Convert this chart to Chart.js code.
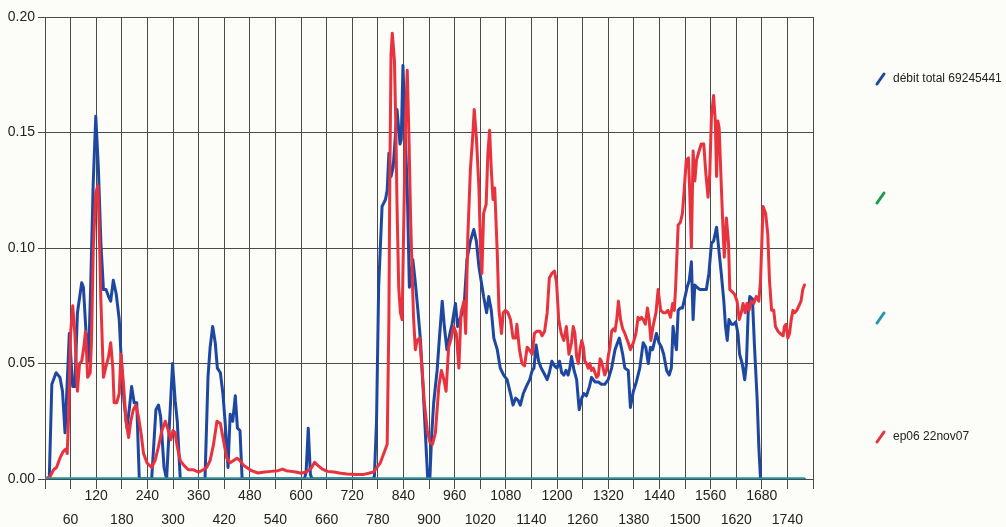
<!DOCTYPE html>
<html>
<head>
<meta charset="utf-8">
<script src="https://cdn.jsdelivr.net/npm/chart.js@4.4.0/dist/chart.umd.min.js"></script>
<style>
  html, body { margin: 0; padding: 0; background: #fcfcf8; }
  canvas { display: block; }
</style>
</head>
<body>
<canvas id="debitChart" width="1006" height="527"></canvas>
<script>
// débit total 69245441 (blue)
const debitTotal = [
  [0,0],[10,0],[16,0.041],[26,0.046],[35,0.044],[41,0.038],[47,0.020],[57,0.063],[65,0.040],[70,0.040],
  [76,0.072],[86,0.085],[90,0.083],[96,0.064],[102,0.051],[107,0.083],[113,0.128],[119,0.157],[125,0.135],
  [131,0.102],[137,0.082],[143,0.082],[149,0.079],[154,0.077],[160,0.086],[167,0.080],[174,0.069],[178,0.054],
  [185,0.034],[192,0.022],[198,0.031],[203,0.040],[209,0.033],[215,0.033],[221,0],[250,0],[260,0.030],
  [266,0.032],[271,0.027],[279,0.005],[285,0],[292,0.025],[299,0.050],[305,0.034],[310,0.025],[317,0],
  [375,0],[382,0.044],[387,0.057],[393,0.066],[399,0.059],[404,0.048],[411,0.046],[417,0.037],[422,0.025],
  [429,0.005],[434,0.028],[440,0.025],[446,0.036],[451,0.022],[457,0.021],[462,0],[608,0],[612,0.003],
  [617,0.022],[622,0.002],[626,0],[767,0],[772,0.001],[777,0.025],[782,0.083],[790,0.118],[798,0.121],
  [802,0.125],[806,0.141],[811,0.131],[816,0.135],[821,0.148],[825,0.160],[832,0.145],[835,0.147],[839,0.179],
  [843,0.155],[849,0.126],[854,0.083],[858,0.087],[862,0.095],[868,0.085],[874,0.073],[880,0.060],[886,0.040],
  [892,0.018],[897,0],[902,0],[906,0.018],[911,0.033],[919,0.047],[924,0.060],[931,0.077],[936,0.066],
  [942,0.056],[949,0.063],[954,0.067],[962,0.076],[967,0.066],[972,0.069],[978,0.072],[983,0.077],[989,0.095],
  [997,0.103],[1005,0.108],[1011,0.103],[1017,0.092],[1022,0.086],[1028,0.079],[1035,0.072],[1040,0.079],
  [1046,0.073],[1052,0.061],[1060,0.056],[1067,0.048],[1075,0.045],[1083,0.043],[1091,0.037],[1097,0.032],
  [1103,0.035],[1109,0.034],[1114,0.032],[1121,0.037],[1128,0.040],[1136,0.043],[1142,0.047],[1146,0.048],
  [1151,0.058],[1157,0.051],[1163,0.048],[1169,0.046],[1177,0.043],[1182,0.046],[1188,0.051],[1194,0.049],
  [1200,0.048],[1206,0.051],[1211,0.046],[1216,0.045],[1221,0.047],[1226,0.045],[1230,0.048],[1234,0.053],
  [1240,0.047],[1246,0.043],[1252,0.030],[1258,0.035],[1263,0.037],[1269,0.036],[1276,0.040],[1281,0.044],
  [1289,0.042],[1297,0.042],[1304,0.041],[1312,0.041],[1320,0.043],[1328,0.048],[1336,0.056],[1346,0.061],
  [1354,0.054],[1359,0.048],[1367,0.047],[1372,0.031],[1379,0.038],[1386,0.042],[1394,0.048],[1402,0.059],
  [1408,0.057],[1414,0.050],[1419,0.057],[1424,0.056],[1433,0.063],[1439,0.059],[1445,0.057],[1450,0.054],
  [1457,0.047],[1463,0.045],[1468,0.048],[1472,0.066],[1476,0.060],[1480,0.056],[1484,0.073],[1489,0.074],
  [1494,0.074],[1499,0.078],[1505,0.083],[1510,0.086],[1515,0.094],[1519,0.069],[1523,0.084],[1528,0.083],
  [1535,0.082],[1542,0.082],[1550,0.082],[1556,0.089],[1562,0.102],[1567,0.103],[1574,0.109],[1580,0.098],
  [1585,0.089],[1591,0.077],[1595,0.066],[1599,0.060],[1603,0.069],[1609,0.067],[1614,0.067],[1619,0.068],
  [1624,0.063],[1628,0.054],[1634,0.050],[1640,0.043],[1644,0.050],[1648,0.072],[1652,0.079],[1658,0.078],
  [1663,0.057],[1669,0.035],[1673,0.014],[1677,0]
];

// ep06 22nov07 (red)
const ep06 = [
  [0,0],[12,0.001],[20,0.004],[27,0.005],[35,0.009],[43,0.012],[49,0.013],[52,0.011],[55,0.025],[60,0.063],
  [65,0.075],[70,0.063],[76,0.038],[81,0.050],[86,0.051],[91,0.057],[95,0.064],[100,0.044],[106,0.046],
  [109,0.060],[113,0.099],[119,0.124],[124,0.127],[127,0.109],[131,0.077],[137,0.044],[142,0.048],[149,0.053],
  [154,0.059],[159,0.048],[162,0.033],[168,0.033],[174,0.037],[178,0.054],[184,0.041],[190,0.025],[196,0.018],
  [201,0.025],[207,0.030],[213,0.032],[219,0.027],[225,0.020],[231,0.011],[239,0.007],[250,0.005],[258,0.008],
  [266,0.014],[274,0.021],[282,0.025],[289,0.021],[295,0.017],[300,0.021],[305,0.020],[310,0.014],[317,0.008],
  [325,0.006],[336,0.004],[348,0.004],[360,0.003],[371,0.004],[379,0.005],[387,0.008],[395,0.015],[403,0.025],
  [411,0.024],[418,0.017],[426,0.009],[434,0.007],[442,0.008],[450,0.009],[457,0.008],[465,0.006],[473,0.005],
  [484,0.0036],[499,0.0026],[515,0.003],[530,0.0033],[546,0.0036],[557,0.0043],[565,0.0036],[577,0.0033],
  [588,0.003],[600,0.0025],[612,0.003],[623,0.0045],[632,0.0072],[640,0.0058],[650,0.0043],[662,0.0033],
  [677,0.003],[693,0.0025],[708,0.0022],[728,0.002],[747,0.002],[759,0.0025],[770,0.003],[778,0.005],
  [786,0.007],[794,0.011],[802,0.015],[806,0.069],[808,0.126],[811,0.184],[814,0.193],[819,0.181],[822,0.155],
  [825,0.119],[829,0.083],[833,0.072],[837,0.069],[841,0.112],[845,0.155],[849,0.177],[853,0.148],[857,0.112],
  [861,0.086],[864,0.069],[868,0.056],[872,0.060],[878,0.061],[884,0.047],[889,0.033],[896,0.021],[902,0.016],
  [908,0.015],[915,0.020],[923,0.040],[929,0.047],[935,0.043],[940,0.038],[946,0.057],[952,0.061],[958,0.066],
  [964,0.063],[970,0.048],[975,0.072],[982,0.077],[986,0.063],[991,0.105],[997,0.134],[1002,0.147],[1006,0.160],
  [1011,0.148],[1017,0.126],[1021,0.098],[1024,0.089],[1028,0.115],[1034,0.119],[1038,0.141],[1042,0.151],
  [1046,0.134],[1050,0.121],[1054,0.126],[1060,0.098],[1064,0.073],[1070,0.063],[1074,0.072],[1079,0.073],
  [1085,0.072],[1091,0.069],[1097,0.061],[1103,0.061],[1106,0.067],[1112,0.056],[1118,0.050],[1124,0.049],
  [1130,0.057],[1135,0.056],[1142,0.054],[1147,0.063],[1153,0.064],[1160,0.064],[1165,0.062],[1171,0.064],
  [1177,0.072],[1182,0.087],[1188,0.089],[1194,0.090],[1199,0.085],[1204,0.069],[1210,0.063],[1216,0.060],
  [1222,0.066],[1228,0.054],[1234,0.059],[1238,0.066],[1242,0.063],[1246,0.053],[1250,0.050],[1254,0.056],
  [1258,0.060],[1262,0.057],[1265,0.051],[1269,0.050],[1273,0.048],[1277,0.050],[1281,0.047],[1285,0.048],
  [1289,0.046],[1293,0.044],[1297,0.045],[1301,0.052],[1304,0.051],[1308,0.048],[1312,0.045],[1316,0.047],
  [1320,0.053],[1324,0.057],[1328,0.064],[1332,0.065],[1336,0.064],[1340,0.069],[1344,0.077],[1349,0.069],
  [1354,0.065],[1359,0.063],[1367,0.059],[1372,0.056],[1379,0.059],[1385,0.063],[1390,0.070],[1394,0.069],
  [1398,0.070],[1402,0.069],[1407,0.067],[1412,0.074],[1416,0.069],[1420,0.060],[1425,0.066],[1432,0.072],
  [1437,0.082],[1443,0.073],[1449,0.072],[1455,0.072],[1460,0.073],[1466,0.070],[1471,0.076],[1475,0.073],
  [1478,0.083],[1484,0.110],[1489,0.111],[1494,0.115],[1498,0.125],[1503,0.138],[1508,0.139],[1511,0.125],
  [1515,0.100],[1519,0.142],[1523,0.129],[1527,0.138],[1533,0.142],[1538,0.145],[1544,0.145],[1549,0.132],
  [1554,0.122],[1558,0.132],[1562,0.157],[1567,0.166],[1571,0.155],[1574,0.131],[1577,0.155],[1580,0.152],
  [1583,0.137],[1588,0.113],[1592,0.096],[1597,0.113],[1602,0.102],[1605,0.082],[1611,0.081],[1616,0.080],
  [1622,0.077],[1627,0.069],[1632,0.072],[1636,0.076],[1641,0.072],[1645,0.076],[1650,0.073],[1655,0.077],
  [1661,0.076],[1667,0.079],[1673,0.077],[1677,0.086],[1683,0.118],[1689,0.115],[1694,0.106],[1698,0.086],
  [1703,0.073],[1708,0.073],[1712,0.066],[1718,0.064],[1723,0.063],[1730,0.062],[1733,0.066],[1737,0.067],
  [1741,0.061],[1745,0.063],[1749,0.069],[1753,0.073],[1757,0.072],[1762,0.073],[1767,0.075],[1772,0.077],
  [1776,0.082],[1780,0.084]
];

// the two unnamed series sit on zero all along
const greenSeries = [[0,0],[1780,0]];
const tealSeries = [[0,0],[1780,0]];

// legend rows: colour, text, vertical position
const legendColors = ['#1d47a0', '#1a9a4c', '#2298b0', '#e8333f'];
const legendLabels = ['débit total 69245441', '', '', 'ep06 22nov07'];
const legendRows = [79, 198, 318, 437];

const yTicks = [0, 0.05, 0.10, 0.15, 0.20];

const toPoints = arr => arr.map(p => ({ x: p[0], y: p[1] }));

const gridColor = '#4a4a4a';
const font = { family: 'Liberation Sans, Arial, sans-serif', size: 14 };

const legendPlugin = {
  id: 'sideLegend',
  afterDraw(chart) {
    const ctx = chart.ctx;
    ctx.save();
    legendRows.forEach((y, i) => {
      ctx.strokeStyle = legendColors[i];
      ctx.lineWidth = 3;
      ctx.lineCap = 'round';
      ctx.beginPath();
      ctx.moveTo(877, y + 5);
      ctx.lineTo(884, y - 5);
      ctx.stroke();
      if (legendLabels[i]) {
        ctx.fillStyle = '#222222';
        ctx.font = '12px Liberation Sans, Arial, sans-serif';
        ctx.textBaseline = 'middle';
        ctx.fillText(legendLabels[i], 893, y);
      }
    });
    ctx.restore();
  }
};

const lineStyle = (color) => ({
  borderColor: color,
  backgroundColor: color,
  borderWidth: 3,
  pointRadius: 0,
  tension: 0,
  fill: false,
  borderJoinStyle: 'round',
  borderCapStyle: 'round'
});

new Chart(document.getElementById('debitChart').getContext('2d'), {
  type: 'line',
  data: {
    datasets: [
      Object.assign({ label: '', data: toPoints(tealSeries) }, lineStyle(legendColors[2])),
      Object.assign({ label: 'ep06 22nov07', data: toPoints(ep06) }, lineStyle(legendColors[3])),
      Object.assign({ label: 'débit total 69245441', data: toPoints(debitTotal) }, lineStyle(legendColors[0])),
      Object.assign({ label: '', data: toPoints(greenSeries) }, lineStyle(legendColors[1]))
    ]
  },
  options: {
    responsive: false,
    animation: false,
    layout: { padding: { top: 17, right: 193, left: 0, bottom: 0 } },
    plugins: {
      legend: { display: false },
      tooltip: { enabled: false }
    },
    scales: {
      x: {
        type: 'linear',
        min: 0,
        max: 1800,
        afterFit: (scale) => { scale.height = 48; },
        grid: { color: gridColor, lineWidth: 1, tickLength: 10, tickColor: gridColor },
        border: { color: gridColor, width: 1 },
        ticks: {
          stepSize: 60,
          autoSkip: false,
          maxRotation: 0,
          padding: -5,
          color: '#222222',
          font: Object.assign({ lineHeight: 1.7 }, font),
          callback: (v) => {
            if (v <= 0 || v >= 1800) return '';
            // alternate labels between an upper and a lower row
            return (v / 60) % 2 === 0 ? [String(v), ''] : ['', String(v)];
          }
        }
      },
      y: {
        min: 0,
        max: 0.2,
        afterFit: (scale) => { scale.width = 45; },
        afterBuildTicks: (scale) => { scale.ticks = yTicks.map(v => ({ value: v })); },
        grid: { color: gridColor, lineWidth: 1, tickLength: 7, tickColor: gridColor },
        border: { color: gridColor, width: 1 },
        ticks: {
          padding: 3,
          color: '#222222',
          font: font,
          callback: (v) => Number(v).toFixed(2)
        }
      }
    }
  },
  plugins: [legendPlugin]
});
</script>
</body>
</html>
